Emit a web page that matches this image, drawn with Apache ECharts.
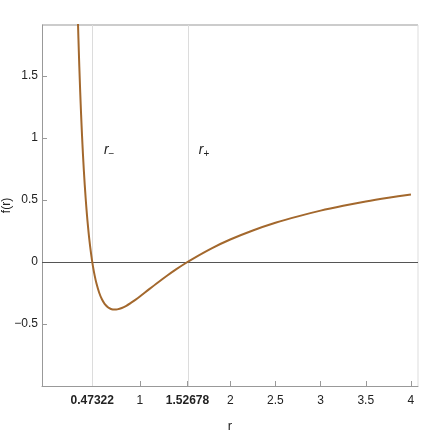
<!DOCTYPE html>
<html>
<head>
<meta charset="utf-8">
<title>f(r)</title>
<script src="https://cdn.jsdelivr.net/npm/echarts@6/dist/echarts.min.js"></script>
<style>
  html, body { margin: 0; padding: 0; background: #fff; }
  #chart { width: 436px; height: 436px; }
</style>
</head>
<body>
<div id="chart"></div>
<script>
// values
var rValues = [0.30, 0.31, 0.32, 0.33, 0.34, 0.35, 0.36, 0.37, 0.38, 0.39, 0.40, 0.41, 0.42, 0.44, 0.46, 0.48,
  0.50, 0.52, 0.55, 0.58, 0.61, 0.65, 0.68, 0.70, 0.72, 0.75, 0.80, 0.85, 0.90, 0.95, 1.0, 1.1, 1.2, 1.3, 1.4, 1.5, 1.6, 1.8,
  2.0, 2.25, 2.5, 2.75, 3.0, 3.25, 3.5, 3.75, 4.0];
var fValues = [2.361, 2.067, 1.806, 1.574, 1.368, 1.184, 1.019, 0.872, 0.740, 0.622, 0.516, 0.420, 0.334, 0.186, 0.067, -0.031,
  -0.110, -0.174, -0.248, -0.301, -0.337, -0.367, -0.379, -0.383, -0.384, -0.382, -0.371, -0.353, -0.330, -0.305, -0.278, -0.221, -0.165, -0.111, -0.060, -0.012, 0.032, 0.112,
  0.181, 0.254, 0.316, 0.368, 0.414, 0.453, 0.488, 0.518, 0.545];

var horizons = [0.47322, 1.52678];
var xTicks = [0.47322, 1, 1.52678, 2, 2.5, 3, 3.5, 4];
var yTicks = [-0.5, 0, 0.5, 1, 1.5];

var font = '"Liberation Sans", Arial, sans-serif';

function fmt(v) {
  var s = String(v);
  if (horizons.indexOf(v) >= 0) return '{b|' + s + '}';
  return s;
}

var chart = echarts.init(document.getElementById('chart'), null, { renderer: 'canvas' });

var curve = rValues.map(function (r, i) { return [r, fValues[i]]; });

chart.setOption({
  animation: false,
  grid: { left: 42, right: 18, top: 25, bottom: 50, containLabel: false, outerBoundsMode: 'none' },
  xAxis: {
    type: 'value',
    min: -0.083,
    max: 4.078,
    name: 'r',
    nameLocation: 'middle',
    nameGap: 34,
    nameMoveOverlap: false,
    nameTextStyle: { fontFamily: font, fontSize: 13, color: '#222' },
    axisLine: { show: true, onZero: false, lineStyle: { color: '#999', width: 1 } },
    axisTick: { show: true, inside: true, length: 5, customValues: xTicks, lineStyle: { color: '#999' } },
    axisLabel: {
      customValues: xTicks,
      formatter: fmt,
      fontFamily: font, fontSize: 12, color: '#222', margin: 9,
      rich: { b: { fontFamily: font, fontSize: 12, fontWeight: 'bold', color: '#222' } }
    },
    splitLine: { show: false }
  },
  yAxis: {
    type: 'value',
    min: -1.0,
    max: 1.911,
    name: 'f(r)',
    nameLocation: 'middle',
    nameGap: 29,
    nameRotate: 90,
    nameMoveOverlap: false,
    nameTextStyle: { fontFamily: font, fontSize: 12, color: '#222' },
    axisLine: { show: true, onZero: false, lineStyle: { color: '#999', width: 1 } },
    axisTick: { show: true, inside: true, length: 5, customValues: yTicks, lineStyle: { color: '#999' } },
    axisLabel: {
      customValues: yTicks,
      formatter: function (v) { return v < 0 ? '\u2212' + Math.abs(v) : String(v); },
      fontFamily: font, fontSize: 12, color: '#222', margin: 4
    },
    splitLine: { show: false }
  },
  graphic: [
    // top and right frame edges
    { type: 'line', shape: { x1: 42, y1: 25, x2: 418, y2: 25 }, style: { stroke: '#999', lineWidth: 1 }, silent: true },
    { type: 'line', shape: { x1: 418, y1: 25, x2: 418, y2: 386 }, style: { stroke: '#ddd', lineWidth: 1 }, silent: true }
  ],
  series: [
    {
      type: 'line',
      data: curve,
      smooth: 0.3,
      showSymbol: false,
      clip: true,
      z: 5,
      lineStyle: { color: '#a3682d', width: 2 },
      markLine: {
        silent: true,
        symbol: 'none',
        label: { show: false },
        data: [
          { xAxis: horizons[0], lineStyle: { color: '#dcdcdc', width: 1, type: 'solid' } },
          { xAxis: horizons[1], lineStyle: { color: '#dcdcdc', width: 1, type: 'solid' } },
          { yAxis: 0, lineStyle: { color: '#555', width: 1, type: 'solid' } }
        ]
      },
      markPoint: {
        silent: true,
        symbol: 'circle',
        symbolSize: 0,
        label: {
          show: true,
          position: 'inside',
          formatter: function (p) { return '{r|r}{s|' + p.name + '}'; },
          rich: {
            r: { fontFamily: font, fontSize: 14, fontStyle: 'italic', color: '#222' },
            s: { fontFamily: font, fontSize: 10, color: '#222', padding: [8, 0, 0, 0] }
          }
        },
        data: [
          { name: '\u2212', coord: [0.66, 0.9] },
          { name: '+', coord: [1.71, 0.9] }
        ]
      }
    }
  ]
});
</script>
</body>
</html>
